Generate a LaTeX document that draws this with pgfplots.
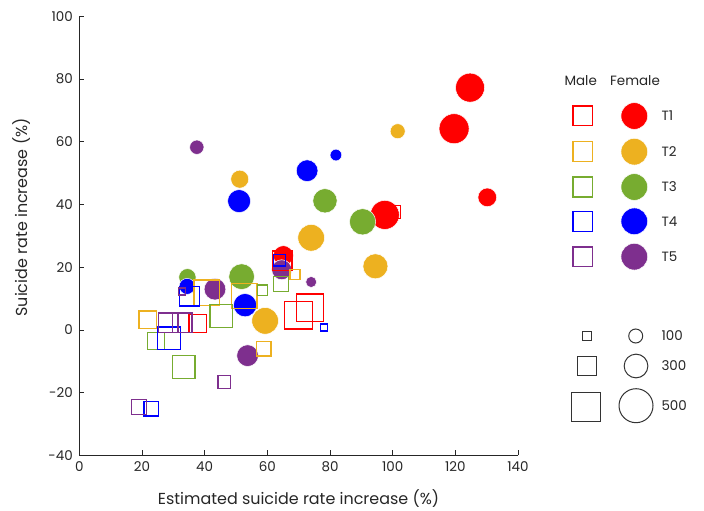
\documentclass[border=0pt]{standalone}
\usepackage{pgfplots}
\pgfplotsset{compat=1.18}
\usepackage{pgfplotstable}
\usepackage{fontspec}
\setmainfont{Poppins}
\definecolor{cT1}{HTML}{FF0000}
\definecolor{cT2}{HTML}{EDB120}
\definecolor{cT3}{HTML}{77AC30}
\definecolor{cT4}{HTML}{0000FF}
\definecolor{cT5}{HTML}{7E2F8E}
\definecolor{axc}{HTML}{262626}
\definecolor{lgc}{HTML}{333333}
\newcommand\lf{\fontsize{13.5}{16}\selectfont}

% Female (filled circles): x y diameter(px)
\pgfplotstableread{
x y d
124.7 77.3 29
119.6 64.2 30
130.2 42.3 18.7
97.5 36.7 29
65.1 23.7 20
}\fA
\pgfplotstableread{
x y d
101.6 63.4 15
51.2 48.1 18
74.0 29.4 26.7
94.5 20.3 25
59.3 2.9 26.7
}\fB
\pgfplotstableread{
x y d
78.4 41.2 24.3
90.4 34.5 26.3
51.8 17.0 25.7
34.5 16.8 17.3
}\fC
\pgfplotstableread{
x y d
81.9 55.8 11.7
72.7 50.8 21.7
51.0 41.1 23
52.9 7.9 23.3
34.4 13.9 16
}\fD
\pgfplotstableread{
x y d
37.5 58.3 14.3
74.0 15.3 11
43.3 13.0 21.7
53.7 -8.2 21.7
64.6 19.2 20
}\fE
% Male (open squares): x y side(px)
\pgfplotstableread{
x y d
100.4 37.6 14
64.7 22.0 21
70.0 4.7 29
73.6 7.1 28.7
37.8 2.1 19
}\mA
\pgfplotstableread{
x y d
68.8 17.6 11.3
40.7 11.8 27
52.7 10.8 26.7
21.9 3.2 19
58.8 -6.0 16
}\mB
\pgfplotstableread{
x y d
58.5 12.7 11.7
64.4 14.6 16.5
45.3 4.4 24
24.5 -3.5 18.5
33.3 -11.8 24
}\mC
\pgfplotstableread{
x y d
63.9 22.3 13
78.1 0.8 8.3
35.2 10.8 21
28.6 -2.7 24
23.0 -25.1 16
}\mD
\pgfplotstableread{
x y d
32.7 12.3 8.3
28.4 2.3 21
32.8 2.3 21
46.2 -16.6 13.7
19.1 -24.7 16.3
}\mE

\pgfplotsset{
  fem/.style={only marks, scatter, mark=*,
    visualization depends on={0.5*\thisrow{d} \as \rr},
    scatter/@pre marker code/.code={\pgfscope\pgfsetplotmarksize{\rr bp}%
      \pgfsetfillcolor{#1}\pgfsetstrokecolor{white}\pgfsetlinewidth{0.5bp}},
    scatter/@post marker code/.code={\endpgfscope}},
  mal/.style={only marks, scatter, mark=square,
    visualization depends on={0.5*\thisrow{d}-0.65 \as \rr},
    scatter/@pre marker code/.code={\pgfscope\pgfsetplotmarksize{\rr bp}%
      \pgfsetstrokecolor{#1}\pgfsetlinewidth{1.3bp}},
    scatter/@post marker code/.code={\endpgfscope}},
  sizeleg/.style={only marks, scatter, mark=#1,
    visualization depends on={0.5*\thisrow{d}-0.5 \as \rr},
    scatter/@pre marker code/.code={\pgfscope\pgfsetplotmarksize{\rr bp}%
      \pgfsetstrokecolor{lgc}\pgfsetlinewidth{1bp}},
    scatter/@post marker code/.code={\endpgfscope}},
}

\begin{document}
\begin{tikzpicture}
\useasboundingbox (0,0) rectangle (704bp,511bp);
\begin{axis}[
  at={(79.3bp,55.7bp)}, anchor=south west,
  width=438.7bp, height=438.8bp, scale only axis,
  xmin=0, xmax=140, ymin=-40, ymax=100,
  xtick={0,20,...,140}, ytick={-40,-20,...,100},
  axis x line*=bottom, axis y line*=left,
  tick align=inside, major tick length=5bp,
  axis line style={axc, line width=0.8bp},
  tick style={axc, line width=0.8bp},
  /pgf/number format/assume math mode=true,
  ticklabel style={font=\lf, text=axc},
  xticklabel style={yshift=-3bp},
  yticklabel style={xshift=-3bp},
  xlabel={Estimated suicide rate increase (\%)},
  ylabel={Suicide rate increase (\%)},
  every axis x label/.style={at={(axis description cs:0.4997,-0.098)}, anchor=center, font=\fontsize{16}{19}\selectfont, text=axc},
  every axis y label/.style={at={(axis description cs:-0.1306,0.542)}, anchor=center, rotate=90, font=\fontsize{16}{19}\selectfont, text=axc},
  clip=false,
]
\addplot[fem=cT1] table {\fA};
\addplot[fem=cT2] table {\fB};
\addplot[fem=cT3] table {\fC};
\addplot[fem=cT4] table {\fD};
\addplot[fem=cT5] table {\fE};
\addplot[mal=cT1] table {\mA};
\addplot[mal=cT2] table {\mB};
\addplot[mal=cT3] table {\mC};
\addplot[mal=cT4] table {\mD};
\addplot[mal=cT5] table {\mE};
\end{axis}
% legend axis in pixel coordinates
\begin{axis}[
  at={(0bp,0bp)}, anchor=south west,
  width=704bp, height=511bp, scale only axis, hide axis,
  xmin=0, xmax=704, ymin=0, ymax=511, y dir=reverse, clip=false,
]
\addplot[mal=cT1] table[row sep=\\] {x y d\\ 582.7 116 21\\};
\addplot[mal=cT2] table[row sep=\\] {x y d\\ 582.7 151.7 21\\};
\addplot[mal=cT3] table[row sep=\\] {x y d\\ 582.7 187 21\\};
\addplot[mal=cT4] table[row sep=\\] {x y d\\ 582.7 221.3 21\\};
\addplot[mal=cT5] table[row sep=\\] {x y d\\ 582.7 256.7 21\\};
\addplot[fem=cT1] table[row sep=\\] {x y d\\ 634.3 116 26.7\\};
\addplot[fem=cT2] table[row sep=\\] {x y d\\ 634.3 151.7 26.7\\};
\addplot[fem=cT3] table[row sep=\\] {x y d\\ 634.3 187 26.7\\};
\addplot[fem=cT4] table[row sep=\\] {x y d\\ 634.3 221.3 26.7\\};
\addplot[fem=cT5] table[row sep=\\] {x y d\\ 634.3 256.7 26.7\\};
\addplot[sizeleg=square] table[row sep=\\] {x y d\\ 587 336 9.3\\ 587 366 20\\ 586.3 406.7 30\\};
\addplot[sizeleg=o] table[row sep=\\] {x y d\\ 635.7 336 15\\ 636 366 24.7\\ 636 405.7 35\\};
\node[font=\lf, text=axc] at (axis cs:580.7,80.7) {Male};
\node[font=\lf, text=axc] at (axis cs:635,80.7) {Female};
\node[font=\lf, text=axc, anchor=west] at (axis cs:658,116) {T1};
\node[font=\lf, text=axc, anchor=west] at (axis cs:658,151.7) {T2};
\node[font=\lf, text=axc, anchor=west] at (axis cs:658,187) {T3};
\node[font=\lf, text=axc, anchor=west] at (axis cs:658,221.3) {T4};
\node[font=\lf, text=axc, anchor=west] at (axis cs:658,256.7) {T5};
\node[font=\lf, text=axc, anchor=west] at (axis cs:658,336) {100};
\node[font=\lf, text=axc, anchor=west] at (axis cs:658,366) {300};
\node[font=\lf, text=axc, anchor=west] at (axis cs:658,405.7) {500};
\end{axis}
\end{tikzpicture}
\end{document}
